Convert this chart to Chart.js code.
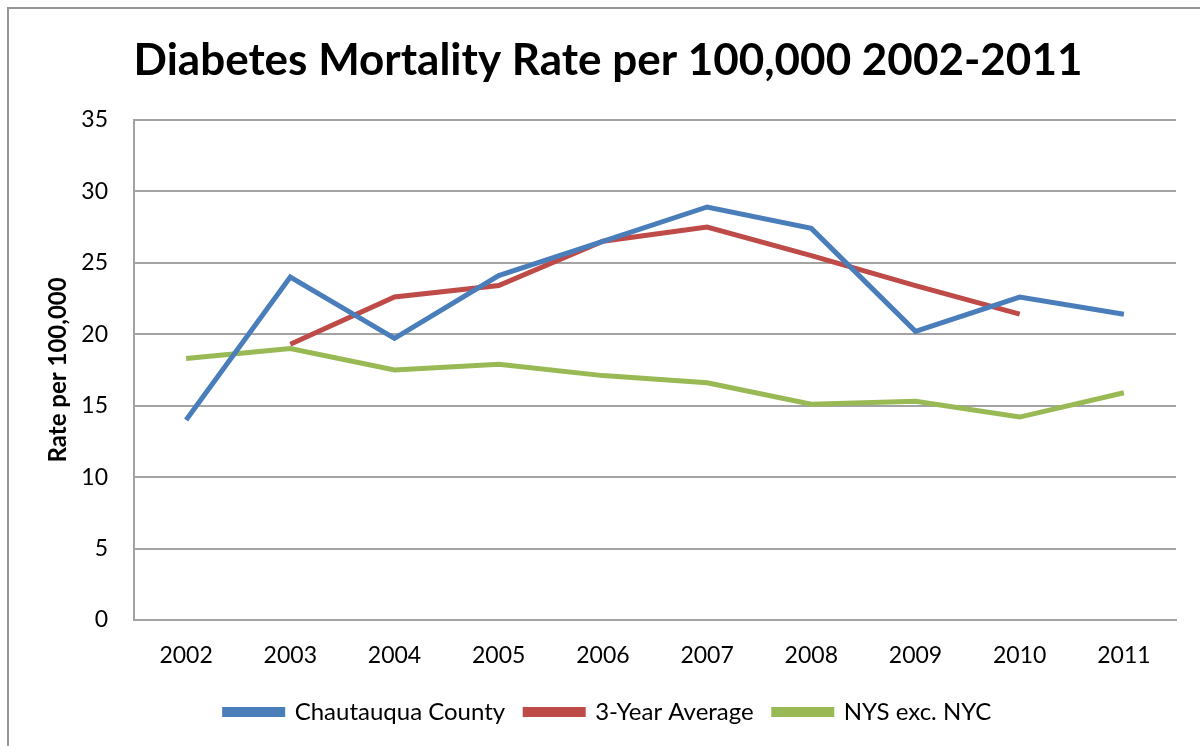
<!DOCTYPE html>
<html>
<head>
<meta charset="utf-8">
<script src="https://cdn.jsdelivr.net/npm/chart.js@4"></script>
<style>
  body { margin: 0; background: #fff; overflow: hidden; }
  #frame { position: absolute; left: 7px; top: 7px; width: 1300px; height: 900px;
           border-left: 2px solid #969696; border-top: 2px solid #969696; }
  #wrap { position: absolute; left: 0; top: 0; width: 1200px; height: 746px; }
</style>
</head>
<body>
<div id="frame"></div>
<div id="wrap"><canvas id="myChart" width="1200" height="746"></canvas></div>
<script>
var years = ['2002', '2003', '2004', '2005', '2006', '2007', '2008', '2009', '2010', '2011'];
var chautauqua = [14.0, 24.0, 19.7, 24.1, 26.5, 28.9, 27.4, 20.2, 22.6, 21.4];
var threeYearAvg = [null, 19.3, 22.6, 23.4, 26.5, 27.5, 25.5, 23.4, 21.4, null];
var nysExNyc = [18.3, 19.0, 17.5, 17.9, 17.1, 16.6, 15.1, 15.3, 14.2, 15.9];

var fontName = 'Lato, "Open Sans", sans-serif';
var gridColor = '#a3a3a3';

function loadChart() {
    var ctx = document.getElementById('myChart').getContext('2d');

    new Chart(ctx, {
        type: 'line',
        data: {
            labels: years,
            datasets: [{
                label: 'Chautauqua County',
                data: chautauqua,
                borderColor: '#4a7ebb',
                backgroundColor: '#4a7ebb',
                borderWidth: 5,
                pointRadius: 0,
                tension: 0
            }, {
                label: '3-Year Average',
                data: threeYearAvg,
                borderColor: '#be4b48',
                backgroundColor: '#be4b48',
                borderWidth: 5,
                pointRadius: 0,
                tension: 0
            }, {
                label: 'NYS exc. NYC',
                data: nysExNyc,
                borderColor: '#98b954',
                backgroundColor: '#98b954',
                borderWidth: 5,
                pointRadius: 0,
                tension: 0
            }]
        },
        options: {
            responsive: false,
            animation: false,
            layout: { padding: { left: 40, right: 24, top: 0, bottom: 12 } },
            scales: {
                y: {
                    min: 0,
                    max: 35,
                    ticks: {
                        stepSize: 5,
                        color: '#000',
                        padding: 26,
                        font: { family: fontName, size: 23 }
                    },
                    grid: {
                        color: gridColor,
                        lineWidth: 2,
                        drawTicks: false
                    },
                    border: { color: gridColor, width: 2 },
                    title: {
                        display: true,
                        text: 'Rate per 100,000',
                        color: '#000',
                        padding: { top: 4, bottom: 0 },
                        font: { family: fontName, size: 24, weight: 'bold' }
                    },
                    afterFit: function (scale) { scale.width = 94; }
                },
                x: {
                    offset: true,
                    ticks: {
                        color: '#000',
                        padding: 22,
                        font: { family: fontName, size: 23 }
                    },
                    grid: { display: false, drawTicks: false },
                    border: { color: gridColor, width: 2 },
                    afterFit: function (scale) { scale.height = 60; }
                }
            },
            plugins: {
                title: {
                    display: true,
                    text: 'Diabetes Mortality Rate per 100,000 2002-2011',
                    color: '#000',
                    padding: { top: 34, bottom: 33 },
                    font: { family: fontName, size: 44, weight: 'bold' }
                },
                legend: {
                    position: 'bottom',
                    labels: {
                        color: '#000',
                        boxWidth: 58,
                        boxHeight: 5,
                        padding: 20,
                        font: { family: fontName, size: 24 }
                    }
                },
                tooltip: { enabled: false }
            }
        }
    });
}
loadChart();
</script>
</body>
</html>
